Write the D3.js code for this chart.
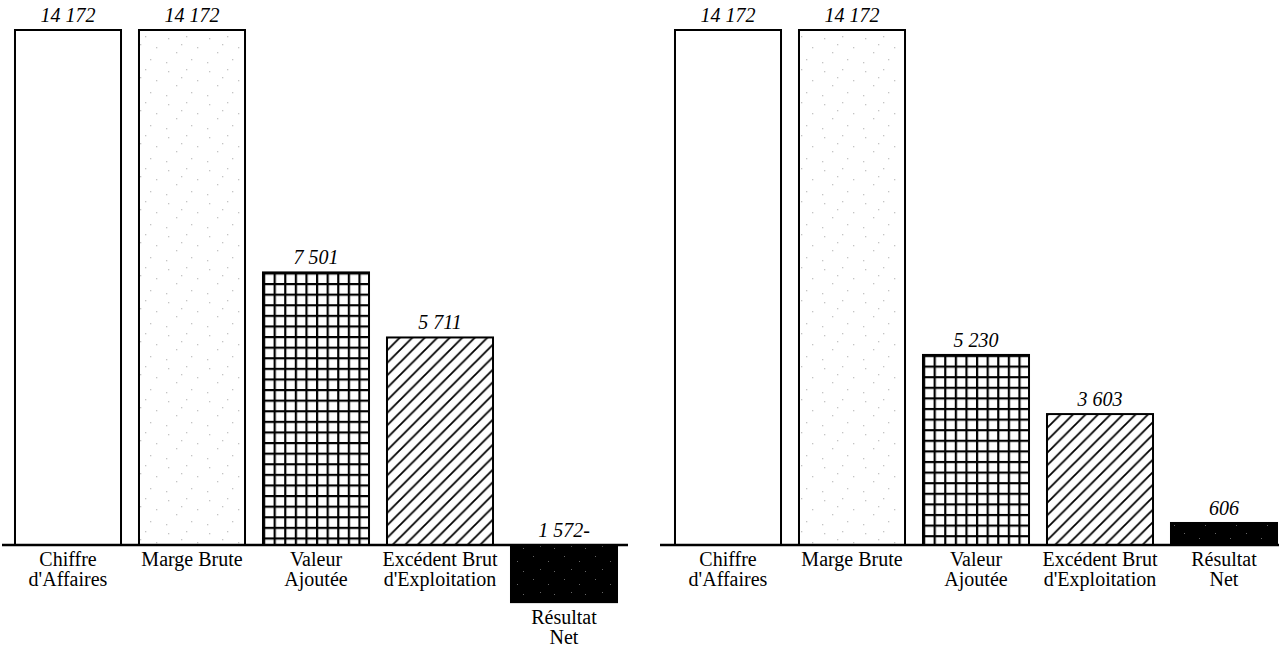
<!DOCTYPE html>
<html>
<head>
<meta charset="utf-8">
<script src="https://cdn.jsdelivr.net/npm/d3@7"></script>
<style>
  body { margin: 0; background: #fff; }
  svg { display: block; }
  text { font-family: "Liberation Serif", "Times New Roman", Times, "DejaVu Serif", serif; }
</style>
</head>
<body>
<div id="chart"></div>
<script>
const categories = [
  ["Chiffre", "d'Affaires"],
  ["Marge Brute"],
  ["Valeur", "Ajoutée"],
  ["Excédent Brut", "d'Exploitation"],
  ["Résultat", "Net"]
];
const valuesLeft = [14172, 14172, 7501, 5711, -1572];
const valuesRight = [14172, 14172, 5230, 3603, 606];
const labelsLeft = ["14 172", "14 172", "7 501", "5 711", "1 572-"];
const labelsRight = ["14 172", "14 172", "5 230", "3 603", "606"];
const fills = ["#fff", "stipple", "grid", "hatch", "dark"];

const width = 1279, height = 649;

let svg = d3.select('#chart')
  .append('svg')
    .attr('width', width)
    .attr('height', height);

let defs = svg.append('defs');

let y = d3.scaleLinear()
  .domain([0, 14172])
  .range([545, 30]);

// patterns, one set per panel so they line up with the bars
function makePatterns(id, x0, y0) {
  let stipple = defs.append('pattern')
    .attr('id', 'stipple' + id)
    .attr('patternUnits', 'userSpaceOnUse')
    .attr('width', 41).attr('height', 33);
  stipple.append('rect').attr('width', 41).attr('height', 33).attr('fill', '#fff');
  [[4, 5], [22, 3], [33, 14], [12, 19], [27, 26], [2, 29], [17, 11]].forEach(p => {
    stipple.append('rect')
      .attr('x', p[0]).attr('y', p[1])
      .attr('width', 1.3).attr('height', 1.3)
      .attr('fill', '#c4c4c4');
  });

  let gs = 10.6;
  let grid = defs.append('pattern')
    .attr('id', 'grid' + id)
    .attr('patternUnits', 'userSpaceOnUse')
    .attr('width', gs).attr('height', gs)
    .attr('x', x0).attr('y', y0);
  grid.append('rect').attr('width', gs).attr('height', gs).attr('fill', '#fff');
  grid.append('path')
    .attr('d', `M0,1.1H${gs}M1.1,0V${gs}`)
    .attr('stroke', '#000')
    .attr('stroke-width', 2.2);

  let hs = 12.5;
  let hatch = defs.append('pattern')
    .attr('id', 'hatch' + id)
    .attr('patternUnits', 'userSpaceOnUse')
    .attr('width', hs).attr('height', hs);
  hatch.append('rect').attr('width', hs).attr('height', hs).attr('fill', '#fff');
  hatch.append('path')
    .attr('d', `M0,${hs}L${hs},0M-2,2L2,-2M${hs - 2},${hs + 2}L${hs + 2},${hs - 2}`)
    .attr('stroke', '#000')
    .attr('stroke-width', 1.8);

  let dark = defs.append('pattern')
    .attr('id', 'dark' + id)
    .attr('patternUnits', 'userSpaceOnUse')
    .attr('width', 31).attr('height', 23);
  dark.append('rect').attr('width', 31).attr('height', 23).attr('fill', '#000');
  [[6, 4], [21, 9], [13, 17], [27, 19]].forEach(p => {
    dark.append('rect')
      .attr('x', p[0]).attr('y', p[1])
      .attr('width', 1).attr('height', 1)
      .attr('fill', '#666');
  });
}

function drawPanel(id, values, labels, range, axisExtent) {
  let x = d3.scaleBand()
    .domain(d3.range(values.length))
    .range(range)
    .paddingInner(0.145)
    .paddingOuter(0.0725);

  makePatterns(id, x(2), y(values[2]));

  let g = svg.append('g');

  g.selectAll('rect.bar')
    .data(values)
    .join('rect')
      .attr('class', 'bar')
      .attr('x', (d, i) => x(i))
      .attr('y', d => y(Math.max(0, d)))
      .attr('width', x.bandwidth())
      .attr('height', d => Math.abs(y(d) - y(0)))
      .attr('fill', (d, i) => (i === 0 ? fills[i] : `url(#${fills[i]}${id})`))
      .attr('stroke', '#000')
      .attr('stroke-width', 2);

  // baseline
  g.append('line')
    .attr('x1', axisExtent[0]).attr('x2', axisExtent[1])
    .attr('y1', y(0)).attr('y2', y(0))
    .attr('stroke', '#000')
    .attr('stroke-width', 2.5);

  // value labels
  g.selectAll('text.value')
    .data(values)
    .join('text')
      .attr('class', 'value')
      .attr('x', (d, i) => x(i) + x.bandwidth() / 2)
      .attr('y', d => y(Math.max(0, d)) - 8)
      .attr('text-anchor', 'middle')
      .attr('font-style', 'italic')
      .attr('font-size', 20)
      .text((d, i) => labels[i]);

  // category labels
  let cat = g.selectAll('text.cat')
    .data(values)
    .join('text')
      .attr('class', 'cat')
      .attr('x', (d, i) => x(i) + x.bandwidth() / 2)
      .attr('y', d => (d < 0 ? y(d) + 22 : y(0) + 21))
      .attr('text-anchor', 'middle')
      .attr('font-size', 20);

  cat.selectAll('tspan')
    .data((d, i) => categories[i])
    .join('tspan')
      .attr('x', function () { return d3.select(this.parentNode).attr('x'); })
      .attr('dy', (t, j) => (j === 0 ? 0 : 20))
      .text(t => t);
}

drawPanel('L', valuesLeft, labelsLeft, [6, 626], [2, 628]);
drawPanel('R', valuesRight, labelsRight, [666, 1286], [660, 1279]);
</script>
</body>
</html>
